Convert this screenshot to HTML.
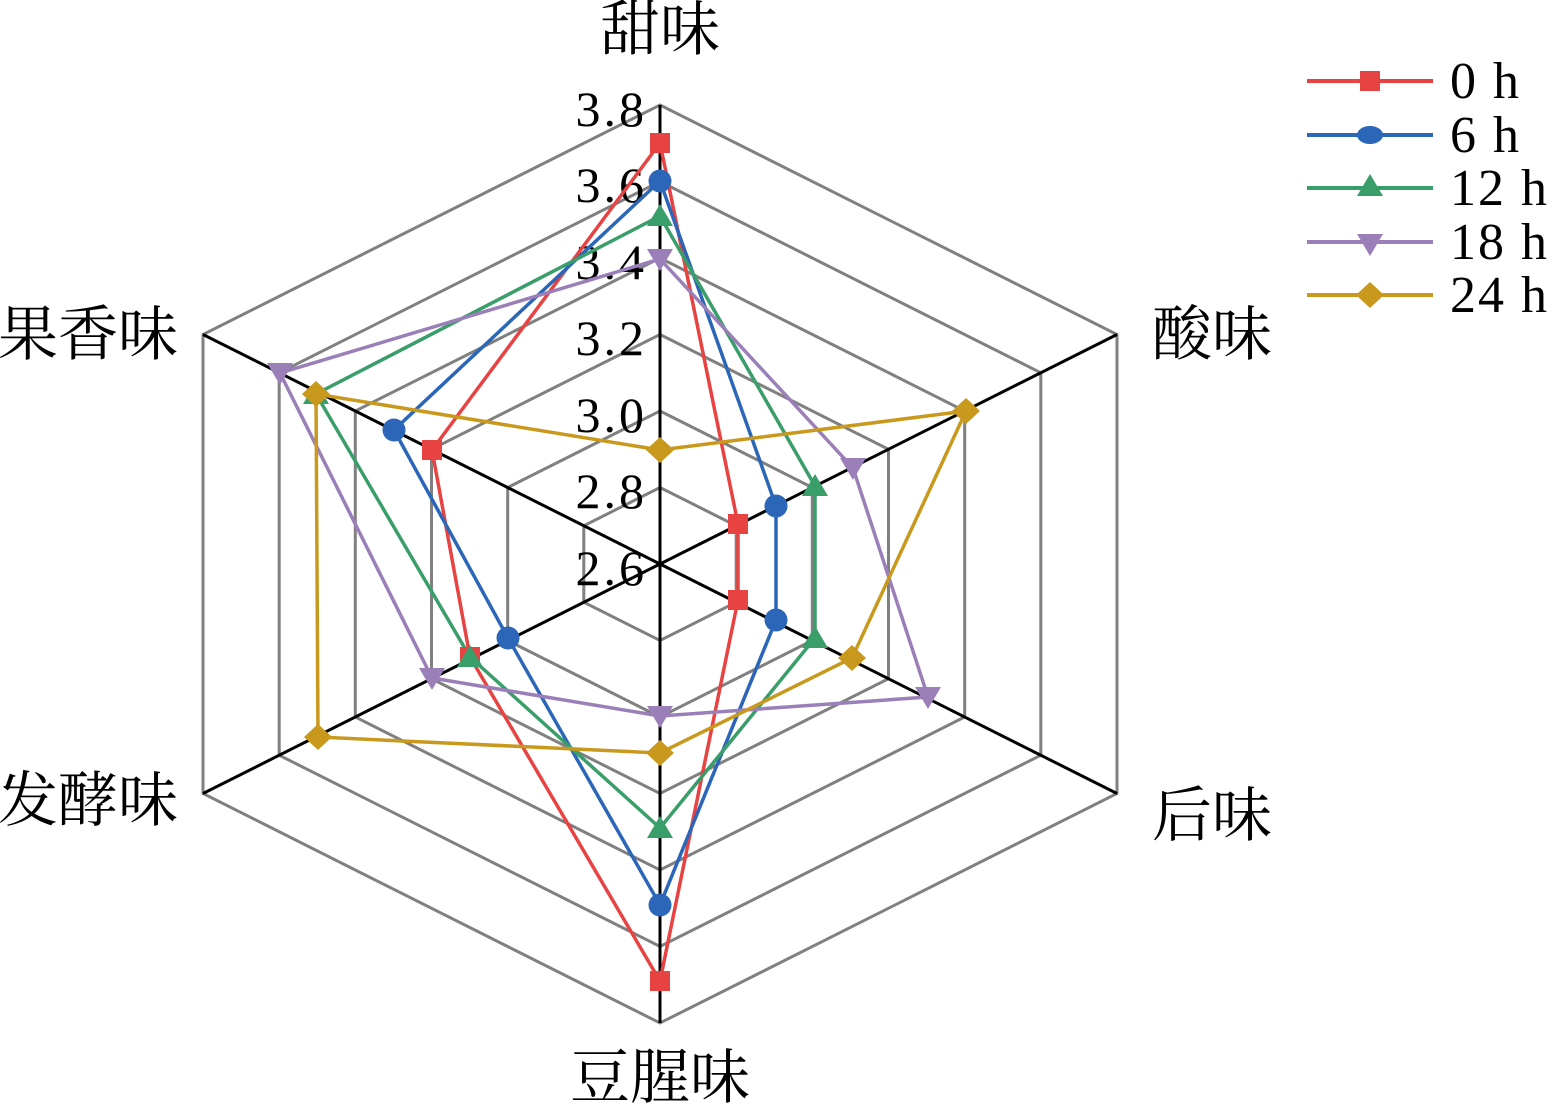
<!DOCTYPE html>
<html><head><meta charset="utf-8"><style>html,body{margin:0;padding:0;background:#fff}svg{display:block}</style></head>
<body>
<svg width="1552" height="1104" viewBox="0 0 1552 1104" xmlns="http://www.w3.org/2000/svg">
<defs>
<g id="sq"><rect x="-10" y="-10" width="20" height="20"/></g>
<g id="ci"><circle r="11.5"/></g>
<g id="tu"><polygon points="0,-12 13,10 -13,10"/></g>
<g id="td"><polygon points="0,12 13,-10 -13,-10"/></g>
<g id="di"><polygon points="0,-13 14,0 0,13 -14,0"/></g>
</defs>
<g fill="none" stroke="#808080" stroke-width="3">
<polygon points="660,105 1117,334.5 1117,793.5 660,1023 203,793.5 203,334.5"/>
<polygon points="660,181.5 1040.8,372.75 1040.8,755.25 660,946.5 279.2,755.25 279.2,372.75"/>
<polygon points="660,258 964.7,411 964.7,717 660,870 355.3,717 355.3,411"/>
<polygon points="660,334.5 888.5,449.25 888.5,678.75 660,793.5 431.5,678.75 431.5,449.25"/>
<polygon points="660,411 812.3,487.5 812.3,640.5 660,717 507.7,640.5 507.7,487.5"/>
<polygon points="660,487.5 736.2,525.75 736.2,602.25 660,640.5 583.8,602.25 583.8,525.75"/>
</g>
<g stroke="#000" stroke-width="3">
<line x1="660" y1="564" x2="660" y2="105"/><line x1="660" y1="564" x2="1117" y2="334.5"/>
<line x1="660" y1="564" x2="1117" y2="793.5"/><line x1="660" y1="564" x2="660" y2="1023"/>
<line x1="660" y1="564" x2="203" y2="793.5"/><line x1="660" y1="564" x2="203" y2="334.5"/>
</g>
<g font-family="Liberation Serif, serif" font-size="50" letter-spacing="3" fill="#000" text-anchor="end">
<text x="647" y="126">3.8</text><text x="647" y="202">3.6</text><text x="647" y="279">3.4</text>
<text x="647" y="355">3.2</text><text x="647" y="432">3.0</text><text x="647" y="508">2.8</text><text x="647" y="585">2.6</text>
</g>
<g font-family="Liberation Serif, 'Noto Serif CJK SC', serif" font-size="60" fill="#000">
<text x="660" y="50" text-anchor="middle">甜味</text>
<text x="1212" y="355" text-anchor="middle">酸味</text>
<text x="1212" y="836" text-anchor="middle">后味</text>
<text x="660" y="1098" text-anchor="middle">豆腥味</text>
<text x="88" y="821" text-anchor="middle">发酵味</text>
<text x="88" y="355" text-anchor="middle">果香味</text>
</g>
<g fill="none" stroke-width="3.5">
<polygon stroke="#e84343" points="660,143 738,524 738,600 660,981 470,657 432,450"/>
<polygon stroke="#2b66b8" points="660,181 776,506 776,620 660,905 508,638 394,430"/>
<polygon stroke="#3a9e6a" points="660,216 815,486 815,638 660,828 470,657 316,394"/>
<polygon stroke="#9b7fb8" points="660,259 853,468 928,697 660,716 432,678 280,373"/>
<polygon stroke="#c9991d" points="660,450 966,411 852,658 660,753 318,737 316,394"/>
</g>
<g fill="#e84343"><use href="#sq" x="660" y="143"/><use href="#sq" x="738" y="524"/><use href="#sq" x="738" y="600"/><use href="#sq" x="660" y="981"/><use href="#sq" x="470" y="657"/><use href="#sq" x="432" y="450"/></g>
<g fill="#2b66b8"><use href="#ci" x="660" y="181"/><use href="#ci" x="776" y="506"/><use href="#ci" x="776" y="620"/><use href="#ci" x="660" y="905"/><use href="#ci" x="508" y="638"/><use href="#ci" x="394" y="430"/></g>
<g fill="#3a9e6a"><use href="#tu" x="660" y="216"/><use href="#tu" x="815" y="486"/><use href="#tu" x="815" y="638"/><use href="#tu" x="660" y="828"/><use href="#tu" x="470" y="657"/><use href="#tu" x="316" y="394"/></g>
<g fill="#9b7fb8"><use href="#td" x="660" y="259"/><use href="#td" x="853" y="468"/><use href="#td" x="928" y="697"/><use href="#td" x="660" y="716"/><use href="#td" x="432" y="678"/><use href="#td" x="280" y="373"/></g>
<g fill="#c9991d"><use href="#di" x="660" y="450"/><use href="#di" x="966" y="411"/><use href="#di" x="852" y="658"/><use href="#di" x="660" y="753"/><use href="#di" x="318" y="737"/><use href="#di" x="316" y="394"/></g>
<g stroke-width="4">
<line x1="1307" y1="81" x2="1433" y2="81" stroke="#e84343"/>
<line x1="1307" y1="135" x2="1433" y2="135" stroke="#2b66b8"/>
<line x1="1307" y1="188" x2="1433" y2="188" stroke="#3a9e6a"/>
<line x1="1307" y1="242" x2="1433" y2="242" stroke="#9b7fb8"/>
<line x1="1307" y1="295" x2="1433" y2="295" stroke="#c9991d"/>
</g>
<use href="#sq" x="1370" y="81" fill="#e84343"/>
<ellipse cx="1370" cy="135" rx="13" ry="9" fill="#2b66b8"/>
<use href="#tu" x="1370" y="186" fill="#3a9e6a"/>
<use href="#td" x="1370" y="244" fill="#9b7fb8"/>
<use href="#di" x="1370" y="295" fill="#c9991d"/>
<g font-family="Liberation Serif, serif" font-size="52" letter-spacing="2" fill="#000">
<text x="1450" y="98">0 h</text><text x="1450" y="152">6 h</text><text x="1450" y="205">12 h</text>
<text x="1450" y="259">18 h</text><text x="1450" y="312">24 h</text>
</g>
</svg>
</body></html>
